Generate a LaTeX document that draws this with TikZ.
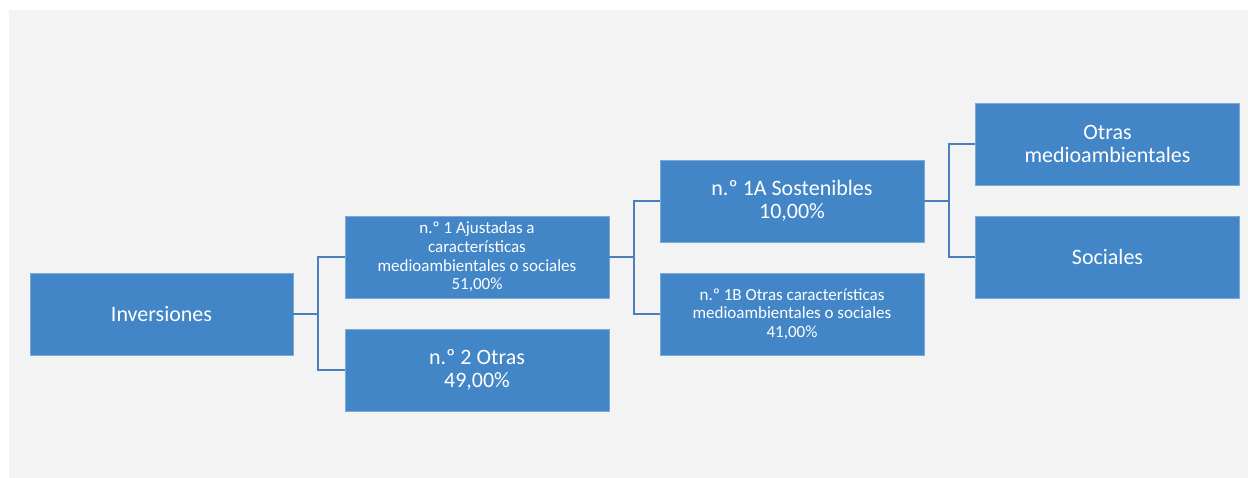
\documentclass[tikz,border=0pt]{standalone}
\usepackage{fontspec}
\setmainfont{Carlito}
\usepackage{tikz}
\usetikzlibrary{positioning}
\definecolor{boxblue}{HTML}{4286C7}
\definecolor{linkblue}{HTML}{4B7EBB}
\definecolor{bggray}{HTML}{F3F3F3}

\begin{document}
\begin{tikzpicture}[x=1pt, y=-1pt,
    box/.style = {fill=boxblue, draw=boxblue!70!white, line width=0.6pt,
        minimum width=264pt, minimum height=82pt, inner sep=0pt,
        text=white, align=center},
    big/.style = {font=\fontsize{22}{23.5}\selectfont},
    small/.style = {font=\fontsize{17}{18.7}\selectfont},
    link/.style = {draw=linkblue, line width=2pt}]
    \useasboundingbox (0,0) rectangle (1248,478);
    \fill[bggray] (9,10) rectangle (1248,478);

    \node[box, big, minimum width=263pt] (inv) at (161.5,314) {Inversiones};
    \node[box, small] (ajust) at (477,257) {n.º 1 Ajustadas a\\características\\medioambientales o sociales\\51,00\%};
    \node[box, big] (otras) at (477,370) {n.º 2 Otras\\49,00\%};
    \node[box, big] (sost) at (792,201) {n.º 1A Sostenibles\\10,00\%};
    \node[box, small] (otrcar) at (792,314) {n.º 1B Otras características\\medioambientales o sociales\\41,00\%};
    \node[box, big] (medio) at (1107.5,144) {Otras\\medioambientales};
    \node[box, big] (soc) at (1107.5,257) {Sociales};

    \draw[link] (inv.east) -- ++(25,0) |- (ajust.west);
    \draw[link] (inv.east) -- ++(25,0) |- (otras.west);
    \draw[link] (ajust.east) -- ++(25,0) |- (sost.west);
    \draw[link] (ajust.east) -- ++(25,0) |- (otrcar.west);
    \draw[link] (sost.east) -- ++(25,0) |- (medio.west);
    \draw[link] (sost.east) -- ++(25,0) |- (soc.west);
\end{tikzpicture}
\end{document}
